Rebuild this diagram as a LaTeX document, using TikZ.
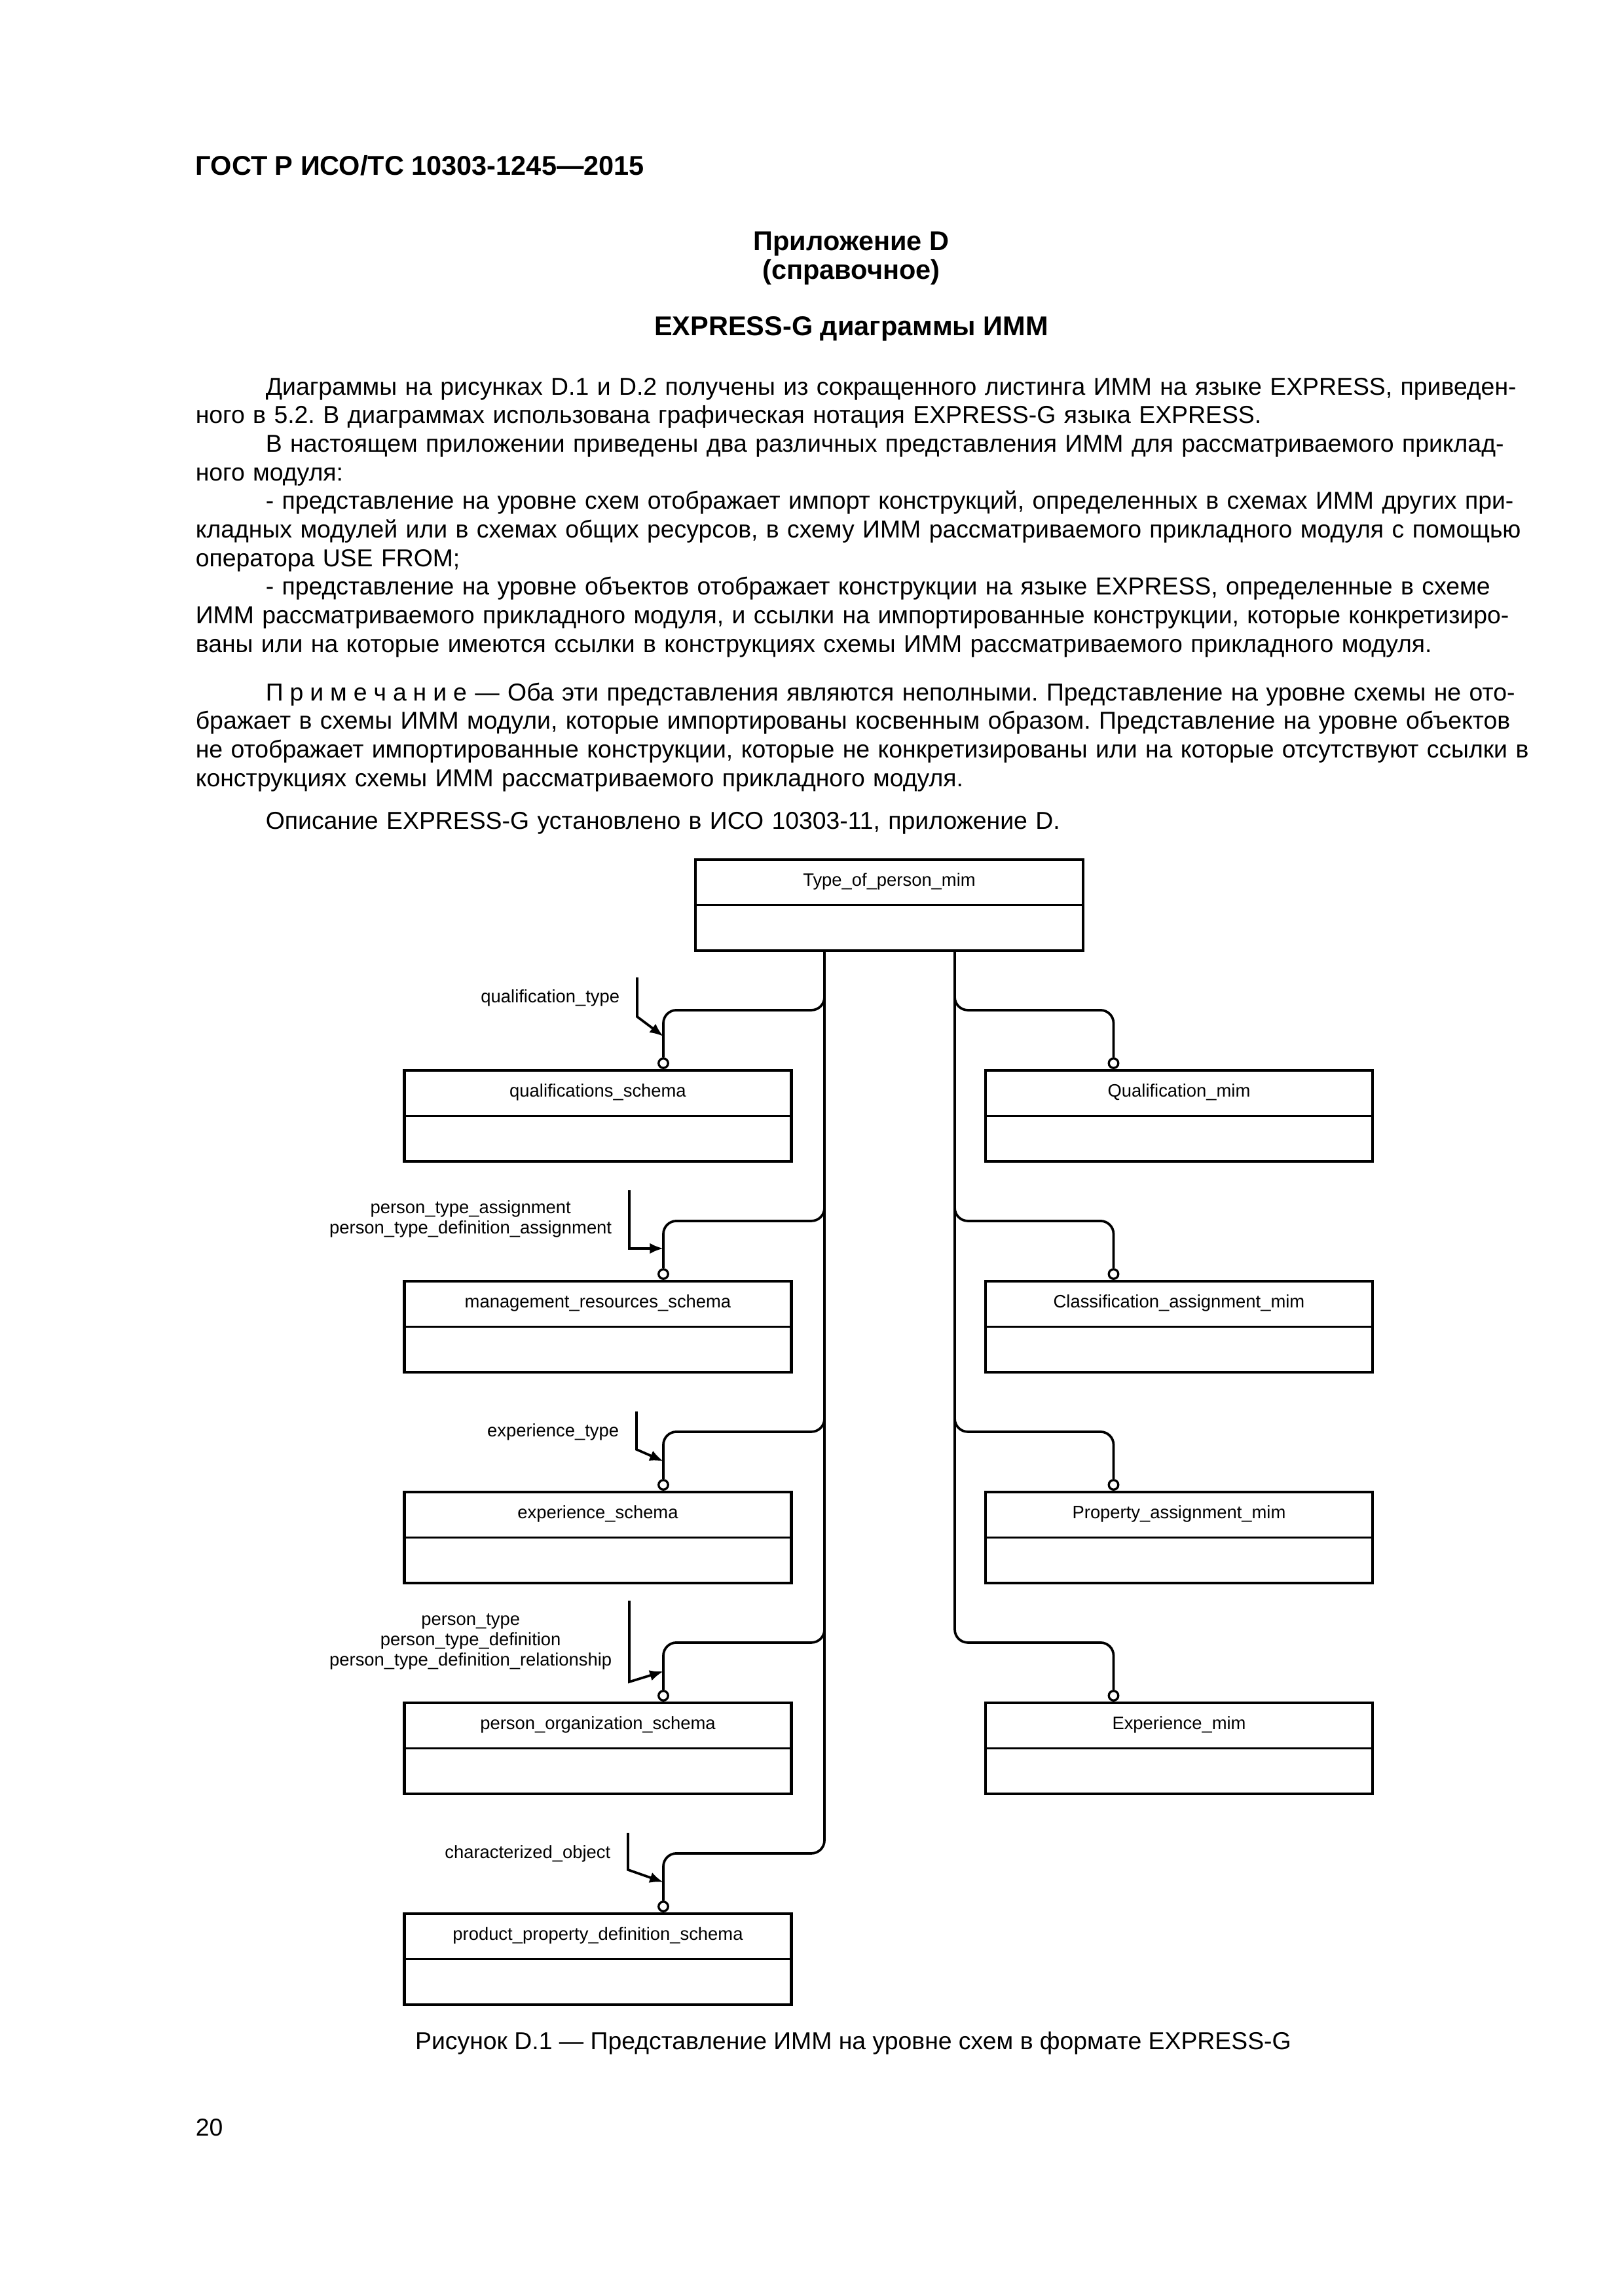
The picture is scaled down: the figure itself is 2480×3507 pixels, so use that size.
\documentclass[tikz,border=0pt]{standalone}
\usepackage{fontspec}
\setmainfont{Liberation Sans}
\usetikzlibrary{arrows.meta, calc}
\frenchspacing

\newlength\textw \setlength\textw{483.06pt}
\newlength\indw  \setlength\indw{25.78pt}
\newcommand\jfirst[1]{\hspace*{\indw}\makebox[\dimexpr\textw-\indw\relax][s]{#1}}
\newcommand\jline[1]{\makebox[\textw][s]{#1}}
\newcommand\lsp{\hspace{2.4pt}}
\newcommand\bodyfont{\fontsize{9}{10.53}\selectfont}
\newcommand\headfont{\fontsize{10}{12}\selectfont\bfseries}
\newcommand\diagfont{\fontsize{6.6}{7.47}\selectfont}

\tikzset{
  schema/.style={draw, line width=1pt, minimum width=142.4pt, minimum height=33.5pt, inner sep=0pt},
  ring/.style={draw, circle, line width=0.8pt, minimum size=3.5pt, inner sep=0pt, fill=white},
  conn/.style={line width=0.9pt, rounded corners=4.8pt},
  ref/.style={line width=0.9pt, -{Latex[length=5pt,width=4pt]}},
  reflabel/.style={font=\diagfont, align=center, anchor=east, inner sep=0pt},
  boxlabel/.style={font=\diagfont, inner sep=0pt},
  para/.style={anchor=base west, inner sep=0pt, text width=\textw, align=left, font=\bodyfont}
}

\begin{document}
\begin{tikzpicture}[x=0.24093pt, y=-0.24093pt]
\useasboundingbox (0,0) rectangle (2480,3507);
\fill[white] (0,0) rectangle (2480,3507);

\node[anchor=base west, inner sep=0pt, font=\headfont] (gost) at (298,267) {ГОСТ Р ИСО/ТС 10303-1245—2015};
\node[anchor=base, inner sep=0pt, font=\headfont] (app) at (1300,382) {Приложение D};
\node[anchor=base, inner sep=0pt, font=\headfont] (ref) at (1300,426) {(справочное)};
\node[anchor=base, inner sep=0pt, font=\headfont] (title) at (1300,512) {EXPRESS-G диаграммы ИММ};

\node[para] (text) at (298,603) {%
\jfirst{Диаграммы на рисунках D.1 и D.2 получены из сокращенного листинга ИММ на языке EXPRESS, приведен-}\\
ного в 5.2. В диаграммах использована графическая нотация EXPRESS-G языка EXPRESS.\\
\jfirst{В настоящем приложении приведены два различных представления ИММ для рассматриваемого приклад-}\\
ного модуля:\\
\jfirst{- представление на уровне схем отображает импорт конструкций, определенных в схемах ИММ других при-}\\
\jline{кладных модулей или в схемах общих ресурсов, в схему ИММ рассматриваемого прикладного модуля с помощью}\\
оператора USE FROM;\\
\jfirst{- представление на уровне объектов отображает конструкции на языке EXPRESS, определенные в схеме}\\
\jline{ИММ рассматриваемого прикладного модуля, и ссылки на импортированные конструкции, которые конкретизиро-}\\
ваны или на которые имеются ссылки в конструкциях схемы ИММ рассматриваемого прикладного модуля.};

\node[para] (note) at (298,1070) {%
\jfirst{П\lsp р\lsp и\lsp м\lsp е\lsp ч\lsp а\lsp н\lsp и\lsp е — Оба эти представления являются неполными. Представление на уровне схемы не ото-}\\
\jline{бражает в схемы ИММ модули, которые импортированы косвенным образом. Представление на уровне объектов}\\
\jline{не отображает импортированные конструкции, которые не конкретизированы или на которые отсутствуют ссылки в}\\
конструкциях схемы ИММ рассматриваемого прикладного модуля.};

\node[para] (descr) at (298,1266) {\hspace*{\indw}Описание EXPRESS-G установлено в ИСО 10303-11, приложение D.};

% schema boxes
\node[schema, minimum width=142.6pt] (T) at (1358,1382.5) {};
\draw[line width=0.8pt] (T.west) -- (T.east);
\node[boxlabel] at ($(T.north)+(0,35)$) {Type\_of\_person\_mim};

\foreach \id/\ty/\txt in {qs/1635/qualifications\_schema, mr/1957/management\_resources\_schema,
  es/2279/experience\_schema, po/2601/person\_organization\_schema, pp/2923/product\_property\_definition\_schema}{
  \node[schema] (\id) at (913,\ty+69.5) {};
  \draw[line width=0.8pt] (\id.west) -- (\id.east);
  \node[boxlabel] at ($(\id.north)+(0,35)$) {\txt};
  \node[ring, anchor=south] (\id-c) at ($(\id.north)+(100,0)$) {};
}
\foreach \id/\ty/\txt in {ql/1635/Qualification\_mim, ca/1957/Classification\_assignment\_mim,
  pa/2279/Property\_assignment\_mim, ex/2601/Experience\_mim}{
  \node[schema] (\id) at (1800.5,\ty+69.5) {};
  \draw[line width=0.8pt] (\id.west) -- (\id.east);
  \node[boxlabel] at ($(\id.north)+(0,35)$) {\txt};
  \node[ring, anchor=south] (\id-c) at ($(\id.north)+(-100,0)$) {};
}

% buses
\coordinate (lb) at (1259,0);
\coordinate (rb) at (1458,0);
\draw[conn] (T.south -| lb) -- ($(pp.north -| lb)+(0,-90)$) -| (pp-c.north);
\draw[conn] (T.south -| rb) -- ($(ex.north -| rb)+(0,-90)$) -| (ex-c.north);
\foreach \id in {qs, mr, es, po}
  \draw[conn] ($(\id.north -| lb)+(0,-115)$) -- ++(0,25) -| (\id-c.north);
\foreach \id in {ql, ca, pa}
  \draw[conn] ($(\id.north -| rb)+(0,-115)$) -- ++(0,25) -| (\id-c.north);

% references
\foreach \id/\lx/\s/\b/\t/\l/\txt in {
  qs/973/-140/-80/-50/-109/{qualification\_type},
  mr/961/-137/-48/-48/-93/{person\_type\_assignment\\person\_type\_definition\_assignment},
  es/972/-121/-63/-45/-90/{experience\_type},
  po/961/-154/-30/-46/-91/{person\_type\\person\_type\_definition\\person\_type\_definition\_relationship},
  pp/959/-121/-65/-46/-90/{characterized\_object}}{
  \coordinate (\id-a) at ($(\id.north -| \lx,0)+(0,\s)$);
  \draw[ref] (\id-a) -- ($(\id.north -| \lx,0)+(0,\b)$) -- ($(\id.north -| \id-c)+(0,\t)$);
  \node[reflabel] (\id-l) at ($(\id.north -| \lx,0)+(-26,\l)$) {\txt};
}

\node[anchor=base, inner sep=0pt, font=\bodyfont] (cap) at (1303,3130) {Рисунок D.1 — Представление ИММ на уровне схем в формате EXPRESS-G};
\node[anchor=base west, inner sep=0pt, font=\bodyfont] (page) at (298,3262) {20};
\end{tikzpicture}
\end{document}
